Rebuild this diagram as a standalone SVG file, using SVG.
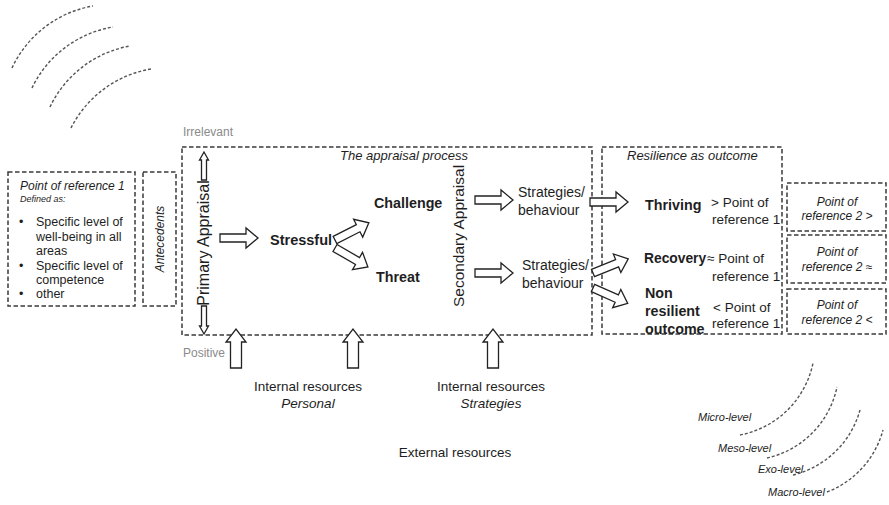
<svg xmlns="http://www.w3.org/2000/svg" width="889" height="505" viewBox="0 0 889 505">
  <style>
    text { font-family: "Liberation Sans", Arial, sans-serif; fill: #1e1e1e; }
    .it { font-style: italic; }
    .b { font-weight: bold; }
    .grey { fill: #8a8a8a; }
    .box { fill: none; stroke: #3a3a3a; stroke-width: 1.5; stroke-dasharray: 4.5 2.5; }
    .arc { fill: none; stroke: #555; stroke-width: 1.4; stroke-dasharray: 3 2; }
    .blk { fill: #fff; stroke: #222; stroke-width: 1.3; stroke-linejoin: miter; }
  </style>
  <defs>
    <!-- hollow block arrows, drawn pointing right / up from the origin -->
    <path id="arrowR" d="M0,-4 H26 V-10 L38,0 L26,10 V4 H0 Z"/>
    <path id="arrowUp" d="M-5.5,0 V-26 H-10 L0,-39 L10,-26 H5.5 V0 Z"/>
    <path id="arrowThin" d="M0,-2.5 H20 V-4.5 L28,0 L20,4.5 V2.5 H0 Z"/>
  </defs>
  <rect width="889" height="505" fill="#fff"/>

  <!-- ecological levels, top left -->
  <g id="arcs-top">
    <path class="arc" d="M12,68 A110 110 0 0 1 93,6"/>
    <path class="arc" d="M32,88 A110 110 0 0 1 113,27"/>
    <path class="arc" d="M50,107 A110 110 0 0 1 130,46"/>
    <path class="arc" d="M71,128 A110 110 0 0 1 151,69"/>
  </g>

  <!-- ecological levels, bottom right -->
  <g id="levels">
    <path class="arc" d="M740,435 A92 92 0 0 0 813,363"/>
    <path class="arc" d="M767,458 A92 92 0 0 0 837,387"/>
    <path class="arc" d="M793,475 A92 92 0 0 0 860,410"/>
    <path class="arc" d="M827,492 A92 92 0 0 0 883,430"/>
    <text class="it" x="698" y="421" font-size="11">Micro-level</text>
    <text class="it" x="718" y="452" font-size="11">Meso-level</text>
    <text class="it" x="758" y="473" font-size="11">Exo-level</text>
    <text class="it" x="768" y="496" font-size="11">Macro-level</text>
  </g>

  <g id="point-of-reference-1">
    <rect class="box" x="8" y="172" width="127" height="134"/>
    <text class="it" x="20" y="190" font-size="12">Point of reference 1</text>
    <text class="it" x="20" y="202" font-size="9">Defined as:</text>
    <text font-size="12.5">
      <tspan x="19" y="226">•</tspan><tspan x="36" y="226">Specific level of</tspan>
      <tspan x="36" y="241">well-being in all</tspan>
      <tspan x="36" y="255">areas</tspan>
      <tspan x="19" y="270">•</tspan><tspan x="36" y="270">Specific level of</tspan>
      <tspan x="36" y="284">competence</tspan>
      <tspan x="19" y="298">•</tspan><tspan x="36" y="298">other</tspan>
    </text>
  </g>

  <g id="antecedents">
    <rect class="box" x="143" y="172" width="33" height="134"/>
    <text class="it" font-size="12" text-anchor="middle" transform="translate(164,239) rotate(-90)">Antecedents</text>
  </g>

  <g id="appraisal-process">
    <rect class="box" x="182" y="147" width="410" height="188"/>
    <text class="it" x="468" y="160" font-size="13" text-anchor="end">The appraisal process</text>
    <text class="grey" x="183" y="136" font-size="12">Irrelevant</text>
    <text class="grey" x="183" y="357" font-size="12">Positive</text>
  </g>

  <g id="primary-appraisal">
    <text font-size="16" text-anchor="middle" transform="translate(209,243) rotate(-90)">Primary Appraisal</text>
  </g>
  <g id="stressful"><text class="b" x="270" y="245" font-size="14.5">Stressful</text></g>
  <g id="challenge"><text class="b" x="374" y="208" font-size="14.3">Challenge</text></g>
  <g id="threat"><text class="b" x="376" y="282" font-size="14.3">Threat</text></g>
  <g id="secondary-appraisal">
    <text font-size="15.5" text-anchor="middle" transform="translate(464,236) rotate(-90)">Secondary Appraisal</text>
  </g>
  <g id="strategies-1">
    <text font-size="14"><tspan x="518" y="197">Strategies/</tspan><tspan x="518" y="215">behaviour</tspan></text>
  </g>
  <g id="strategies-2">
    <text font-size="14"><tspan x="522" y="270">Strategies/</tspan><tspan x="522" y="288">behaviour</tspan></text>
  </g>

  <g id="resilience-outcome">
    <rect class="box" x="602" y="147" width="180" height="187"/>
    <text class="it" x="627" y="160" font-size="13">Resilience as outcome</text>
  </g>
  <g id="thriving">
    <text class="b" x="645" y="210" font-size="14.3">Thriving</text>
    <text font-size="13.5"><tspan x="711" y="207">&gt; Point of</tspan><tspan x="712" y="224">reference 1</tspan></text>
  </g>
  <g id="recovery">
    <text class="b" x="644" y="263" font-size="13.8">Recovery</text>
    <text font-size="13.5"><tspan x="707" y="263">≈ Point of</tspan><tspan x="712" y="281">reference 1</tspan></text>
  </g>
  <g id="non-resilient">
    <text class="b" font-size="14.3"><tspan x="645" y="298">Non</tspan><tspan x="645" y="316">resilient</tspan><tspan x="645" y="334">outcome</tspan></text>
    <text font-size="13.5"><tspan x="713" y="312">&lt; Point of</tspan><tspan x="712" y="328">reference 1</tspan></text>
  </g>

  <g id="reference-2-above">
    <rect class="box" x="787" y="183" width="99" height="48"/>
    <text class="it" font-size="12" text-anchor="middle"><tspan x="837" y="206">Point of</tspan><tspan x="837" y="220">reference 2 &gt;</tspan></text>
  </g>
  <g id="reference-2-equal">
    <rect class="box" x="787" y="235" width="99" height="48"/>
    <text class="it" font-size="12" text-anchor="middle"><tspan x="837" y="256">Point of</tspan><tspan x="837" y="271">reference 2 ≈</tspan></text>
  </g>
  <g id="reference-2-below">
    <rect class="box" x="787" y="289" width="99" height="45"/>
    <text class="it" font-size="12" text-anchor="middle"><tspan x="837" y="309">Point of</tspan><tspan x="837" y="324">reference 2 &lt;</tspan></text>
  </g>

  <g id="internal-personal">
    <text font-size="13.5" text-anchor="middle"><tspan x="308" y="391">Internal resources</tspan><tspan class="it" x="308" y="408">Personal</tspan></text>
  </g>
  <g id="internal-strategies">
    <text font-size="13.5" text-anchor="middle"><tspan x="491" y="391">Internal resources</tspan><tspan class="it" x="491" y="408">Strategies</tspan></text>
  </g>
  <g id="external-resources">
    <text font-size="13.5" text-anchor="middle" x="455" y="457">External resources</text>
  </g>

  <!-- connectors: hollow block arrows -->
  <g id="connectors" class="blk">
    <use href="#arrowThin" transform="translate(204,180) rotate(-90)"/>
    <use href="#arrowThin" transform="translate(204,306) rotate(90)"/>
    <use href="#arrowR" transform="translate(220,238)"/>
    <use href="#arrowR" transform="translate(335,240) rotate(-27)"/>
    <use href="#arrowR" transform="translate(335,248) rotate(30)"/>
    <use href="#arrowR" transform="translate(475,200)"/>
    <use href="#arrowR" transform="translate(475,273)"/>
    <use href="#arrowR" transform="translate(590,202)"/>
    <use href="#arrowR" transform="translate(593,273) rotate(-22)"/>
    <use href="#arrowR" transform="translate(593,288) rotate(24)"/>
    <use href="#arrowUp" transform="translate(236,368)"/>
    <use href="#arrowUp" transform="translate(353,368)"/>
    <use href="#arrowUp" transform="translate(493,368)"/>
  </g>
</svg>
